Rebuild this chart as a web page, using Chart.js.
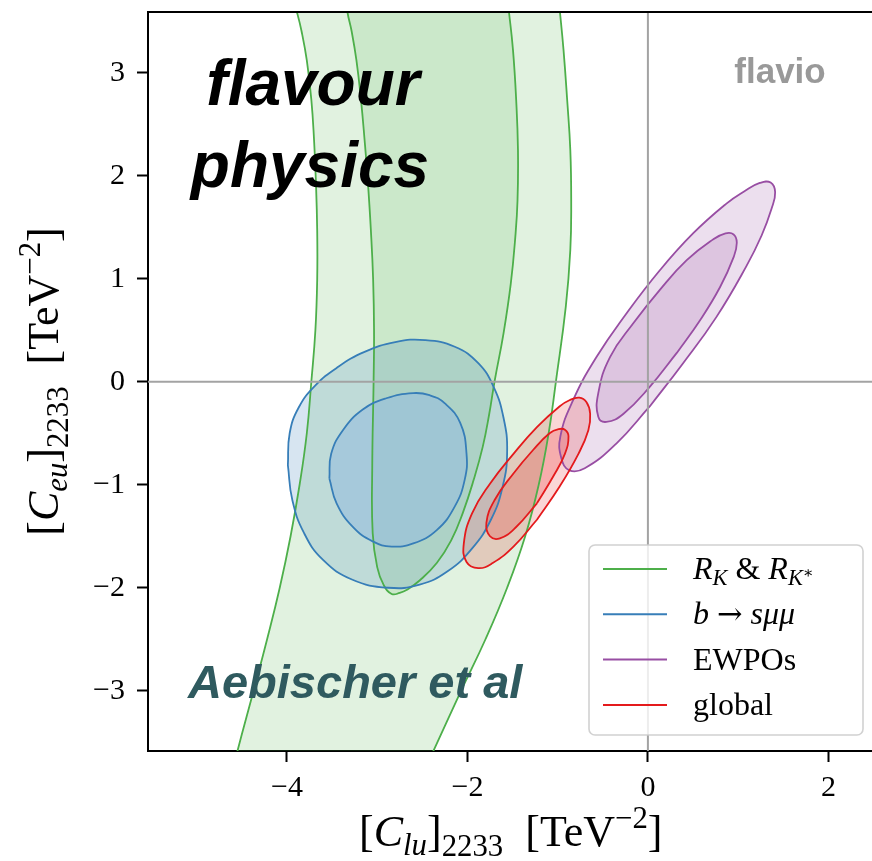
<!DOCTYPE html>
<html lang="en">
<head>
<meta charset="UTF-8">
<title>Clu vs Ceu constraints</title>
<script src="https://cdn.jsdelivr.net/npm/chart.js@4.4.0/dist/chart.umd.min.js"></script>
<style>
  html, body { margin: 0; padding: 0; background: #fff; overflow: hidden; }
  #wrap { width: 880px; height: 861px; }
</style>
</head>
<body>
<div id="wrap"><canvas id="fit"></canvas></div>
<script>
// axis ranges and ticks (TeV^-2)
const xRange = [-5.54, 2.5];
const yRange = [-3.585, 3.59];
const xTickValues = [-4, -2, 0, 2];
const yTickValues = [-3, -2, -1, 0, 1, 2, 3];

// contour outlines as [C_lu, C_eu] pairs
const rk2Sigma = [
  [-3.96, 3.80], [-3.89, 3.59], [-3.84, 3.41], [-3.78, 3.12], [-3.73, 2.74], [-3.70, 2.35],
  [-3.68, 1.96], [-3.665, 1.47], [-3.665, 0.99], [-3.685, 0.50], [-3.73, 0.00], [-3.78, -0.50],
  [-3.86, -1.00], [-3.96, -1.50], [-4.08, -2.00], [-4.22, -2.50], [-4.37, -3.00], [-4.55, -3.59],
  [-4.61, -3.82],
  [-2.50, -3.82], [-2.38, -3.59], [-2.07, -3.00], [-1.80, -2.50], [-1.56, -2.00], [-1.36, -1.50],
  [-1.21, -1.00], [-1.10, -0.50], [-1.02, 0.00], [-0.91, 0.73], [-0.86, 1.28], [-0.85, 1.76],
  [-0.86, 2.25], [-0.895, 2.74], [-0.935, 3.22], [-0.975, 3.59], [-1.00, 3.80],
  [-3.96, 3.80]
];
const rk1Sigma = [
  [-3.36, 3.80], [-3.33, 3.59], [-3.285, 3.41], [-3.23, 3.12], [-3.18, 2.74], [-3.14, 2.35],
  [-3.105, 1.96], [-3.07, 1.47], [-3.045, 0.99], [-3.035, 0.50], [-3.04, 0.00], [-3.055, -0.83],
  [-3.05, -1.47], [-3.00, -1.80], [-2.93, -1.97], [-2.84, -2.06],
  [-2.75, -2.05], [-2.67, -2.02], [-2.53, -1.93], [-2.34, -1.76], [-2.18, -1.54], [-2.05, -1.27],
  [-1.93, -0.95], [-1.83, -0.63], [-1.76, -0.32], [-1.70, 0.00], [-1.60, 0.47], [-1.52, 0.95],
  [-1.47, 1.40], [-1.445, 1.76], [-1.44, 2.25], [-1.46, 2.74], [-1.495, 3.22], [-1.54, 3.59],
  [-1.57, 3.80],
  [-3.36, 3.80]
];
const bsmm2Sigma = [
  [-3.99, -0.81], [-3.94, -1.15], [-3.81, -1.47], [-3.60, -1.73], [-3.28, -1.92], [-2.88, -2.00],
  [-2.53, -1.97], [-2.22, -1.84], [-1.95, -1.62], [-1.74, -1.34], [-1.61, -1.02], [-1.56, -0.68],
  [-1.60, -0.35], [-1.71, -0.05], [-1.88, 0.18], [-2.14, 0.34], [-2.47, 0.405], [-2.80, 0.385],
  [-3.14, 0.29], [-3.44, 0.14], [-3.69, -0.04], [-3.87, -0.25], [-3.97, -0.50], [-3.99, -0.81]
];
const bsmm1Sigma = [
  [-3.53, -0.94], [-3.45, -1.18], [-3.27, -1.41], [-3.05, -1.55], [-2.84, -1.60], [-2.60, -1.57],
  [-2.34, -1.44], [-2.14, -1.21], [-2.03, -0.95], [-2.01, -0.70], [-2.08, -0.40], [-2.25, -0.21],
  [-2.42, -0.13], [-2.60, -0.11], [-2.90, -0.16], [-3.16, -0.27], [-3.38, -0.47], [-3.51, -0.70],
  [-3.53, -0.94]
];
const ewpo2Sigma = [
  [0.02, -0.24], [0.39, 0.18], [0.76, 0.63], [1.09, 1.12], [1.26, 1.42], [1.37, 1.68],
  [1.41, 1.84], [1.36, 1.935], [1.24, 1.93], [1.07, 1.85], [0.87, 1.73], [0.50, 1.44],
  [0.13, 1.08], [-0.24, 0.66], [-0.57, 0.24], [-0.83, -0.18], [-0.97, -0.53], [-0.96, -0.74],
  [-0.87, -0.86], [-0.70, -0.84], [-0.35, -0.60], [0.02, -0.24]
];
const ewpo1Sigma = [
  [0.32, 0.28], [0.58, 0.60], [0.80, 0.92], [0.95, 1.21], [0.985, 1.35], [0.95, 1.43],
  [0.86, 1.44], [0.72, 1.38], [0.43, 1.18], [0.13, 0.89], [-0.16, 0.57], [-0.42, 0.24],
  [-0.55, -0.11], [-0.55, -0.34], [-0.46, -0.39], [-0.27, -0.31], [0.02, -0.05], [0.32, 0.28]
];
const global2Sigma = [
  [-1.23, -1.34], [-0.98, -1.02], [-0.77, -0.70], [-0.66, -0.47], [-0.64, -0.31], [-0.68, -0.20],
  [-0.76, -0.155], [-0.87, -0.18], [-0.98, -0.24], [-1.23, -0.44], [-1.49, -0.70], [-1.75, -0.99],
  [-1.95, -1.28], [-2.04, -1.57], [-2.01, -1.75], [-1.88, -1.81], [-1.72, -1.76], [-1.49, -1.60],
  [-1.23, -1.34]
];
const global1Sigma = [
  [-1.23, -1.18], [-1.05, -0.92], [-0.92, -0.70], [-0.88, -0.53], [-0.92, -0.465], [-0.99, -0.46],
  [-1.09, -0.50], [-1.27, -0.66], [-1.49, -0.89], [-1.70, -1.15], [-1.79, -1.37], [-1.75, -1.50],
  [-1.64, -1.52], [-1.46, -1.41], [-1.23, -1.18]
];

const legendLabels = ['R_K & R_K*', 'b → sμμ', 'EWPOs', 'global'];
const seriesColors = ['#4daf4a', '#377eb8', '#984ea3', '#e41a1c'];
// [2 sigma fill, 1 sigma fill] per series
const fillColors = [
  ['rgba(77,175,74,0.17)', 'rgba(77,175,74,0.15)'],
  ['rgba(55,126,184,0.2)', 'rgba(150,190,222,0.6)'],
  ['rgba(152,78,163,0.18)', 'rgba(152,78,163,0.18)'],
  ['rgba(228,26,28,0.18)', 'rgba(228,26,28,0.22)']
];
const contours = [
  [rk2Sigma, rk1Sigma],
  [bsmm2Sigma, bsmm1Sigma],
  [ewpo2Sigma, ewpo1Sigma],
  [global2Sigma, global1Sigma]
];

const SERIF = "'Liberation Serif', 'DejaVu Serif', serif";
const SANS = "'Liberation Sans', Arial, sans-serif";

const toXY = points => points.map(p => ({ x: p[0], y: p[1] }));

// filled regions go underneath every contour line
function area(points, color, order) {
  return {
    data: toXY(points), showLine: true, fill: 'shape',
    borderColor: 'rgba(0,0,0,0)', backgroundColor: color, borderWidth: 1,
    pointRadius: 0, tension: 0.45, order
  };
}
function outline(points, color, order) {
  return {
    data: toXY(points), showLine: true, fill: false,
    borderColor: color, borderWidth: 1.8,
    pointRadius: 0, tension: 0.45, order
  };
}
function refLine(points, order) {
  return {
    data: points, showLine: true, fill: false,
    borderColor: '#a3a3a3', borderWidth: 2,
    pointRadius: 0, tension: 0, order
  };
}

const datasets = [];
contours.forEach((pair, i) => {
  pair.forEach((pts, j) => {
    datasets.push(area(pts, fillColors[i][j], 100 - (i * 2 + j)));
    datasets.push(outline(pts, seriesColors[i], 50 - (i * 2 + j)));
  });
});
datasets.push(refLine([{ x: 0, y: -10 }, { x: 0, y: 10 }], 2));
datasets.push(refLine([{ x: -10, y: 0 }, { x: 10, y: 0 }], 1));

// text runs: [text, italic, scale, baseline shift in em, font family]
function richText(ctx, parts, x, y, size, align) {
  const fontOf = (it, sc, fam) => `${it ? 'italic ' : ''}${size * sc}px ${fam || SERIF}`;
  const widths = parts.map(([t, it, sc = 1, dy = 0, fam]) => {
    ctx.font = fontOf(it, sc, fam);
    return ctx.measureText(t).width;
  });
  const total = widths.reduce((a, b) => a + b, 0);
  let cx = align === 'center' ? x - total / 2 : x;
  ctx.textAlign = 'left';
  ctx.textBaseline = 'alphabetic';
  parts.forEach(([t, it, sc = 1, dy = 0, fam], i) => {
    ctx.font = fontOf(it, sc, fam);
    ctx.fillText(t, cx, y + dy * size);
    cx += widths[i];
  });
}

const legendRuns = [
  [['R', true], ['K', true, 0.7, 0.2], [' & ', false], ['R', true], ['K', true, 0.7, 0.2], ['∗', false, 0.5, -0.02]],
  [['b', true], [' ', false], ['→', false, 0.95, 0, "'DejaVu Serif', serif"], [' ', false], ['sμμ', true]],
  [['EWPOs', false]],
  [['global', false]]
];
const xTitleRuns = [['[', false], ['C', true], ['lu', true, 0.7, 0.2], [']', false], ['2233', false, 0.7, 0.22],
  ['  [TeV', false], ['−2', false, 0.7, -0.4], [']', false]];
const yTitleRuns = [['[', false], ['C', true], ['eu', true, 0.7, 0.2], [']', false], ['2233', false, 0.7, 0.22],
  ['  [TeV', false], ['−2', false, 0.7, -0.4], [']', false]];

const overlays = {
  id: 'overlays',
  afterDatasetsDraw(chart) {
    const { ctx, chartArea: a } = chart;
    ctx.save();
    ctx.beginPath();
    ctx.rect(a.left, a.top, a.right - a.left, a.bottom - a.top);
    ctx.clip();

    ctx.fillStyle = '#000';
    ctx.textAlign = 'center';
    ctx.textBaseline = 'alphabetic';
    ctx.font = `italic bold 64px ${SANS}`;
    ctx.fillText('flavour', 313, 105);
    ctx.fillText('physics', 310, 187);

    ctx.fillStyle = '#2f5a5f';
    ctx.textAlign = 'left';
    ctx.font = `italic bold 47px ${SANS}`;
    ctx.fillText('Aebischer et al', 188, 698);

    ctx.fillStyle = '#999999';
    ctx.textAlign = 'center';
    ctx.font = `bold 35px ${SANS}`;
    ctx.fillText('flavio', 780, 83);
    ctx.restore();

    // frame top/right
    ctx.save();
    ctx.strokeStyle = '#000';
    ctx.lineWidth = 2;
    ctx.beginPath();
    ctx.moveTo(a.left, a.top);
    ctx.lineTo(a.right, a.top);
    ctx.lineTo(a.right, a.bottom);
    ctx.stroke();
    ctx.restore();
  },
  afterDraw(chart) {
    const { ctx, chartArea: a } = chart;
    // legend box
    const bx = 589, by = 545, bw = 274, bh = 190;
    ctx.save();
    ctx.beginPath();
    ctx.roundRect(bx, by, bw, bh, 6);
    ctx.fillStyle = 'rgba(255,255,255,0.8)';
    ctx.fill();
    ctx.strokeStyle = 'rgba(204,204,204,0.9)';
    ctx.lineWidth = 1.6;
    ctx.stroke();
    legendLabels.forEach((label, i) => {
      const yy = 569 + i * 45.3;
      ctx.strokeStyle = seriesColors[i];
      ctx.lineWidth = 2;
      ctx.beginPath();
      ctx.moveTo(603, yy);
      ctx.lineTo(667, yy);
      ctx.stroke();
      ctx.fillStyle = '#000';
      richText(ctx, legendRuns[i], 693, yy + 10, 32, 'left');
    });
    ctx.restore();

    // axis titles
    ctx.save();
    ctx.fillStyle = '#000';
    richText(ctx, xTitleRuns, (a.left + a.right) / 2, 846, 44, 'center');
    ctx.translate(58, (a.top + a.bottom) / 2);
    ctx.rotate(-Math.PI / 2);
    richText(ctx, yTitleRuns, 0, 0, 44, 'center');
    ctx.restore();
  }
};

const fmt = v => (v < 0 ? '\u2212' + Math.abs(v) : String(v));

new Chart(document.getElementById('fit'), {
  type: 'scatter',
  data: { datasets },
  options: {
    responsive: true,
    maintainAspectRatio: false,
    animation: false,
    events: [],
    layout: { padding: { top: 12, right: 6.5, bottom: 0, left: 0 } },
    elements: { line: { capBezierPoints: false } },
    plugins: { legend: { display: false }, tooltip: { enabled: false } },
    scales: {
      x: {
        type: 'linear',
        min: xRange[0],
        max: xRange[1],
        afterBuildTicks: s => { s.ticks = xTickValues.map(v => ({ value: v })); },
        afterFit: s => { s.height = 110; s.paddingLeft = 0; s.paddingRight = 0; },
        ticks: { callback: fmt, color: '#000', padding: 8, maxRotation: 0, font: { family: SERIF, size: 30 } },
        grid: { drawOnChartArea: false, drawTicks: true, tickLength: 11, tickWidth: 2, tickColor: '#000' },
        border: { display: true, color: '#000', width: 2 }
      },
      y: {
        type: 'linear',
        min: yRange[0],
        max: yRange[1],
        afterBuildTicks: s => { s.ticks = yTickValues.map(v => ({ value: v })); },
        afterFit: s => { s.width = 148; s.paddingTop = 0; s.paddingBottom = 0; },
        ticks: { callback: fmt, color: '#000', padding: 12, font: { family: SERIF, size: 30 } },
        grid: { drawOnChartArea: false, drawTicks: true, tickLength: 11, tickWidth: 2, tickColor: '#000' },
        border: { display: true, color: '#000', width: 2 }
      }
    }
  },
  plugins: [overlays]
});
</script>
</body>
</html>
